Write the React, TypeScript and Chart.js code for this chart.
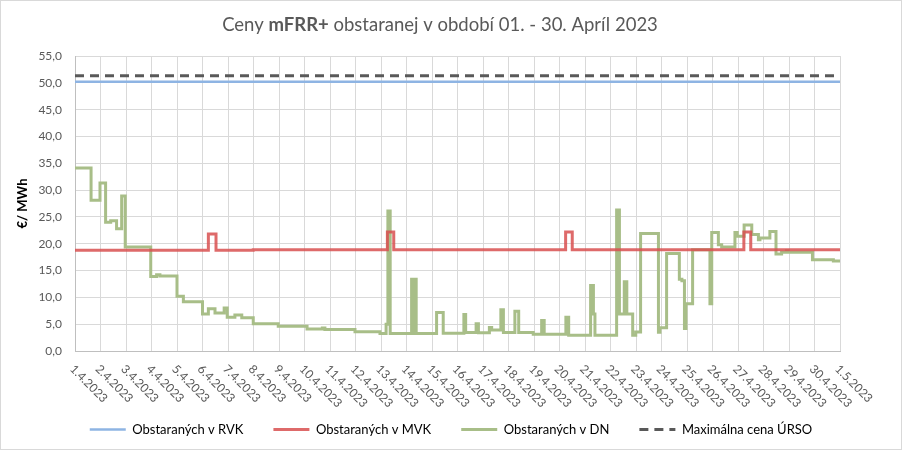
import React, { useEffect, useRef } from "react";
import { Chart, registerables } from "chart.js";

Chart.register(...registerables);

// ---- Data ----
const titleParts: [string, boolean][] = [
  ["Ceny ", false],
  ["mFRR+", true],
  [" obstaranej v období 01. - 30. Apríl 2023", false],
];

const dayLabels = [
  "1.4.2023", "2.4.2023", "3.4.2023", "4.4.2023", "5.4.2023", "6.4.2023",
  "7.4.2023", "8.4.2023", "9.4.2023", "10.4.2023", "11.4.2023", "12.4.2023",
  "13.4.2023", "14.4.2023", "15.4.2023", "16.4.2023", "17.4.2023", "18.4.2023",
  "19.4.2023", "20.4.2023", "21.4.2023", "22.4.2023", "23.4.2023", "24.4.2023",
  "25.4.2023", "26.4.2023", "27.4.2023", "28.4.2023", "29.4.2023", "30.4.2023",
  "1.5.2023",
];

const seriesNames = [
  "Obstaraných v RVK",
  "Obstaraných v MVK",
  "Obstaraných v DN",
  "Maximálna cena ÚRSO",
];

// day offset from 1.4.2023 00:00 -> price (value holds until next point)
const rvkDays = [0, 30];
const rvkValues = [50.2, 50.2];

const ursoDays = [0, 30];
const ursoValues = [51.3, 51.3];

const mvkDays = [0, 5.23, 5.53, 6.99, 12.25, 12.5, 19.24, 19.5, 26.23, 26.5, 30];
const mvkValues = [18.8, 21.8, 18.8, 18.9, 22.2, 18.9, 22.2, 18.9, 22.2, 18.9, 18.9];

const dnDays = [
  0, 0.63, 0.98, 1.2, 1.4, 1.63, 1.83, 1.97, 2.97, 3.2, 3.33,
  4.0, 4.25, 5.0, 5.23, 5.49, 5.85, 5.97, 6.27, 6.54, 6.99,
  7.97, 9.1, 9.7, 9.8, 10.98, 11.96, 12.2, 12.27, 12.36,
  13.2, 13.25, 13.33, 13.38, 14.18, 14.44, 15.25, 15.32,
  15.73, 15.82, 16.25, 16.34, 16.7, 16.8, 17.25, 17.4, 17.97,
  18.3, 18.4, 19.25, 19.36, 20.22, 20.33, 20.39,
  21.24, 21.35, 21.54, 21.64, 21.87, 21.99, 22.18, 22.88, 22.94,
  23.2, 23.7, 23.8, 23.9, 23.96, 24.22, 24.9, 24.97, 25.23, 25.36,
  25.88, 25.97, 26.24, 26.54, 26.8, 26.86, 27.25, 27.49, 27.71,
  27.9, 27.97, 28.92, 29.74, 30,
];
const dnValues = [
  34.1, 28.1, 31.3, 24.0, 24.3, 22.8, 28.9, 19.4, 13.9, 14.2, 14.0,
  10.2, 9.2, 6.9, 7.9, 7.1, 8.0, 6.3, 6.7, 6.2, 5.1,
  4.6, 4.1, 4.3, 4.0, 3.6, 3.25, 5.0, 26.1, 3.25,
  13.4, 3.25, 13.4, 3.25, 7.2, 3.3, 6.8, 3.45,
  5.1, 3.4, 4.4, 3.9, 7.7, 3.45, 7.4, 3.45, 3.1,
  5.7, 3.1, 6.3, 2.95, 12.2, 6.9, 2.95,
  26.3, 6.9, 12.9, 6.9, 2.95, 3.55, 21.9, 3.5, 4.35,
  18.2, 13.4, 13.1, 4.2, 8.8, 18.9, 8.8, 22.1, 19.8, 19.4,
  22.1, 21.4, 23.5, 21.7, 20.75, 21.05, 22.3, 18.1, 18.4,
  18.7, 18.4, 17.0, 16.8, 16.8,
];

const yMin = 0;
const yMax = 55;
const yStep = 5;

// ---- Styling ----
const FONT = "Lato, 'Open Sans', sans-serif";
const TEXT = "#595959";
const GRID = "#D9D9D9";

const toPoints = (xs: number[], ys: number[]) => xs.map((x, i) => ({ x, y: ys[i] }));

const titlePlugin = {
  id: "mixedTitle",
  afterDraw(chart: any) {
    const ctx: CanvasRenderingContext2D = chart.ctx;
    ctx.save();
    const size = 18.5;
    const widths = titleParts.map(([t, b]) => {
      ctx.font = `${b ? "bold " : ""}${size}px ${FONT}`;
      return ctx.measureText(t).width;
    });
    const total = widths.reduce((a, b) => a + b, 0);
    let x = 440 - total / 2;
    ctx.fillStyle = TEXT;
    ctx.textBaseline = "middle";
    ctx.textAlign = "left";
    titleParts.forEach(([t, b], i) => {
      ctx.font = `${b ? "bold " : ""}${size}px ${FONT}`;
      ctx.fillText(t, x, 25);
      x += widths[i];
    });
    // outer frame
    ctx.strokeStyle = GRID;
    ctx.lineWidth = 1;
    ctx.strokeRect(0.5, 0.5, chart.width - 1, chart.height - 1);
    ctx.restore();
  },
};

const xLabelPlugin = {
  id: "rotatedXLabels",
  afterDraw(chart: any) {
    const ctx: CanvasRenderingContext2D = chart.ctx;
    const xs = chart.scales.x;
    const bottom = chart.chartArea.bottom;
    ctx.save();
    ctx.font = `12px ${FONT}`;
    ctx.fillStyle = TEXT;
    ctx.textAlign = "left";
    ctx.textBaseline = "middle";
    dayLabels.forEach((lab, i) => {
      const px = xs.getPixelForValue(i);
      ctx.save();
      ctx.translate(px - 3, bottom + 16);
      ctx.rotate(Math.PI / 4);
      ctx.fillText(lab, 0, 0);
      ctx.restore();
    });
    ctx.restore();
  },
};

export default function App() {
  const ref = useRef<HTMLCanvasElement>(null);

  useEffect(() => {
    if (!ref.current) return;
    const chart = new Chart(ref.current, {
      type: "line",
      data: {
        datasets: [
          {
            label: seriesNames[0],
            data: toPoints(rvkDays, rvkValues),
            borderColor: "#8EB4E3",
            borderWidth: 2.5,
            pointRadius: 0,
          },
          {
            label: seriesNames[1],
            data: toPoints(mvkDays, mvkValues),
            borderColor: "rgba(216, 80, 80, 0.85)",
            borderWidth: 3,
            pointRadius: 0,
            stepped: "before",
          },
          {
            label: seriesNames[2],
            data: toPoints(dnDays, dnValues),
            borderColor: "#A8BE88",
            borderWidth: 3,
            pointRadius: 0,
            stepped: "before",
          },
          {
            label: seriesNames[3],
            data: toPoints(ursoDays, ursoValues),
            borderColor: "#595959",
            borderWidth: 3,
            borderDash: [9, 6],
            pointRadius: 0,
          },
        ],
      } as any,
      options: {
        animation: false,
        responsive: false,
        maintainAspectRatio: false,
        layout: { padding: { top: 56, right: 0, bottom: 4, left: 0 } },
        plugins: {
          title: { display: false },
          tooltip: { enabled: false },
          legend: {
            position: "bottom",
            labels: {
              usePointStyle: true,
              pointStyle: "line",
              pointStyleWidth: 36,
              font: { family: FONT, size: 13 },
              color: TEXT,
              padding: 30,
              generateLabels: (c: any) =>
                c.data.datasets.map((ds: any, i: number) => ({
                  text: ds.label,
                  fillStyle: ds.borderColor,
                  strokeStyle: ds.borderColor,
                  lineWidth: ds.borderWidth,
                  lineDash: ds.borderDash || [],
                  lineCap: "butt",
                  pointStyle: "line",
                  hidden: false,
                  datasetIndex: i,
                })),
            },
          },
        },
        scales: {
          x: {
            type: "linear",
            min: 0,
            max: dayLabels.length - 1,
            ticks: { stepSize: 1, display: false },
            grid: { color: GRID, drawTicks: false },
            border: { color: "#BFBFBF" },
            afterFit: (s: any) => {
              s.height = 42;
            },
          },
          y: {
            min: yMin,
            max: yMax,
            ticks: {
              stepSize: yStep,
              padding: 13,
              color: TEXT,
              font: { family: FONT, size: 12 },
              callback: (v: any) => Number(v).toFixed(1).replace(".", ","),
            },
            grid: { color: GRID, drawTicks: false },
            border: { color: "#BFBFBF" },
            title: {
              display: true,
              text: "€/ MWh",
              color: "#000",
              font: { family: FONT, size: 13, weight: "bold" },
              padding: { top: 15, bottom: 0 },
            },
            afterFit: (s: any) => {
              s.width = 75;
            },
          },
          yRight: {
            position: "right",
            min: yMin,
            max: yMax,
            ticks: { display: false },
            grid: { display: false, drawTicks: false },
            border: { display: false },
            afterFit: (s: any) => {
              s.width = 62;
            },
          },
        },
      } as any,
      plugins: [titlePlugin, xLabelPlugin],
    });
    return () => chart.destroy();
  }, []);

  return (
    <div style={{ position: "fixed", left: 0, top: 0, width: 902, height: 450, background: "#fff" }}>
      <canvas ref={ref} width={902} height={450} />
    </div>
  );
}
